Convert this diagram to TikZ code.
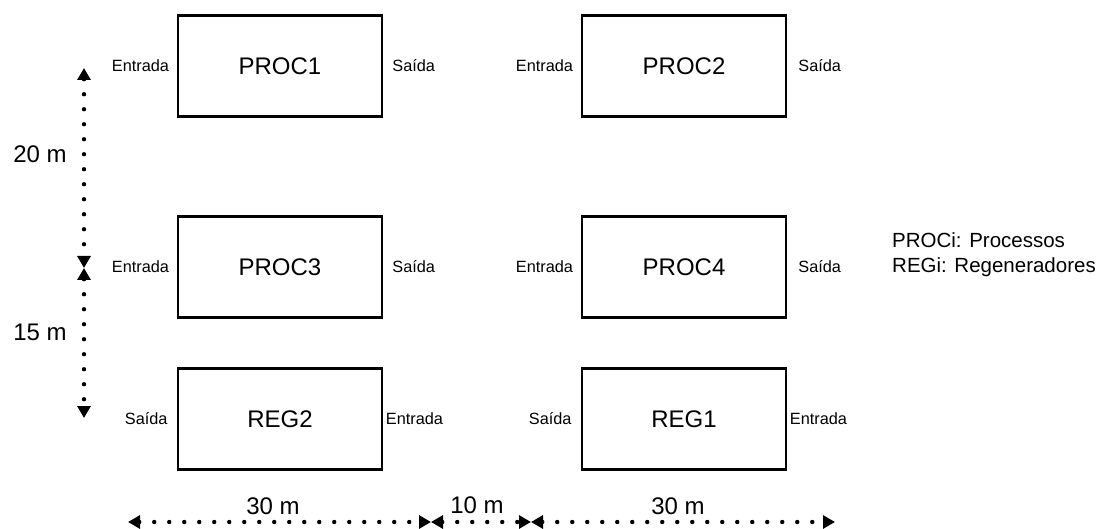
\documentclass[tikz,border=0pt]{standalone}
\usepackage{fontspec}
\setmainfont{Liberation Sans}
\usetikzlibrary{arrows.meta,positioning}
\begin{document}
\begin{tikzpicture}[>={Triangle[length=12pt,width=13pt]},x=1pt,y=-1pt,
		unit/.style={draw,line width=2.5pt,minimum width=204pt,minimum height=101pt,inner sep=0pt,font=\fontsize{24}{28}\selectfont},
		port/.style={inner sep=0pt,font=\fontsize{16.3}{19}\selectfont},
		measure/.style={<->,line width=4.4pt,line cap=round,dash pattern=on 0pt off 15pt},
		size/.style={inner sep=0pt,font=\fontsize{24}{28}\selectfont}]
		\useasboundingbox (0,0) rectangle (1111,529);
		% units
		\node[unit] (p1) at (280,66) {PROC1};
		\node[unit] (p2) at (684,66) {PROC2};
		\node[unit] (p3) at (280,267) {PROC3};
		\node[unit] (p4) at (684,267) {PROC4};
		\node[unit] (r2) at (280,419) {REG2};
		\node[unit] (r1) at (684,419) {REG1};
		% ports
		\node[port,left=7.5pt of p1] (p1in) {Entrada};
		\node[port,right=9pt of p1] (p1out) {Saída};
		\node[port,left=7.5pt of p2] (p2in) {Entrada};
		\node[port,right=11pt of p2] (p2out) {Saída};
		\node[port,left=7.5pt of p3] (p3in) {Entrada};
		\node[port,right=9pt of p3] (p3out) {Saída};
		\node[port,left=7.5pt of p4] (p4in) {Entrada};
		\node[port,right=11pt of p4] (p4out) {Saída};
		\node[port,left=9pt of r2] (r2out) {Saída};
		\node[port,right=2.5pt of r2] (r2in) {Entrada};
		\node[port,left=9pt of r1] (r1out) {Saída};
		\node[port,right=2.5pt of r1] (r1in) {Entrada};
		% vertical distances
		\coordinate (vtop) at (84,68);
		\coordinate (vmid) at (84,268);
		\coordinate (vbot) at (84,418);
		\draw[measure] (vtop) -- (vmid);
		\draw[measure] (vmid) -- (vbot);
		\node[size] (d20) at (40,154) {20 m};
		\node[size] (d15) at (40,332) {15 m};
		% horizontal distances
		\coordinate (ha) at (128,522);
		\coordinate (hb) at (431,522);
		\coordinate (hc) at (531,522);
		\coordinate (hd) at (835,522);
		\draw[measure] (ha) -- (hb);
		\draw[measure] (hb) -- (hc);
		\draw[measure] (hc) -- (hd);
		\node[size] (w30a) at (273,506) {30 m};
		\node[size] (w10) at (477,505) {10 m};
		\node[size] (w30b) at (678,506) {30 m};
		% legend
		\node[inner sep=0pt,anchor=west,align=left,font=\fontsize{20.5}{25}\selectfont] (key) at (892,254.5) {PROCi: Processos\\REGi: Regeneradores};
		\end{tikzpicture}
\end{document}
